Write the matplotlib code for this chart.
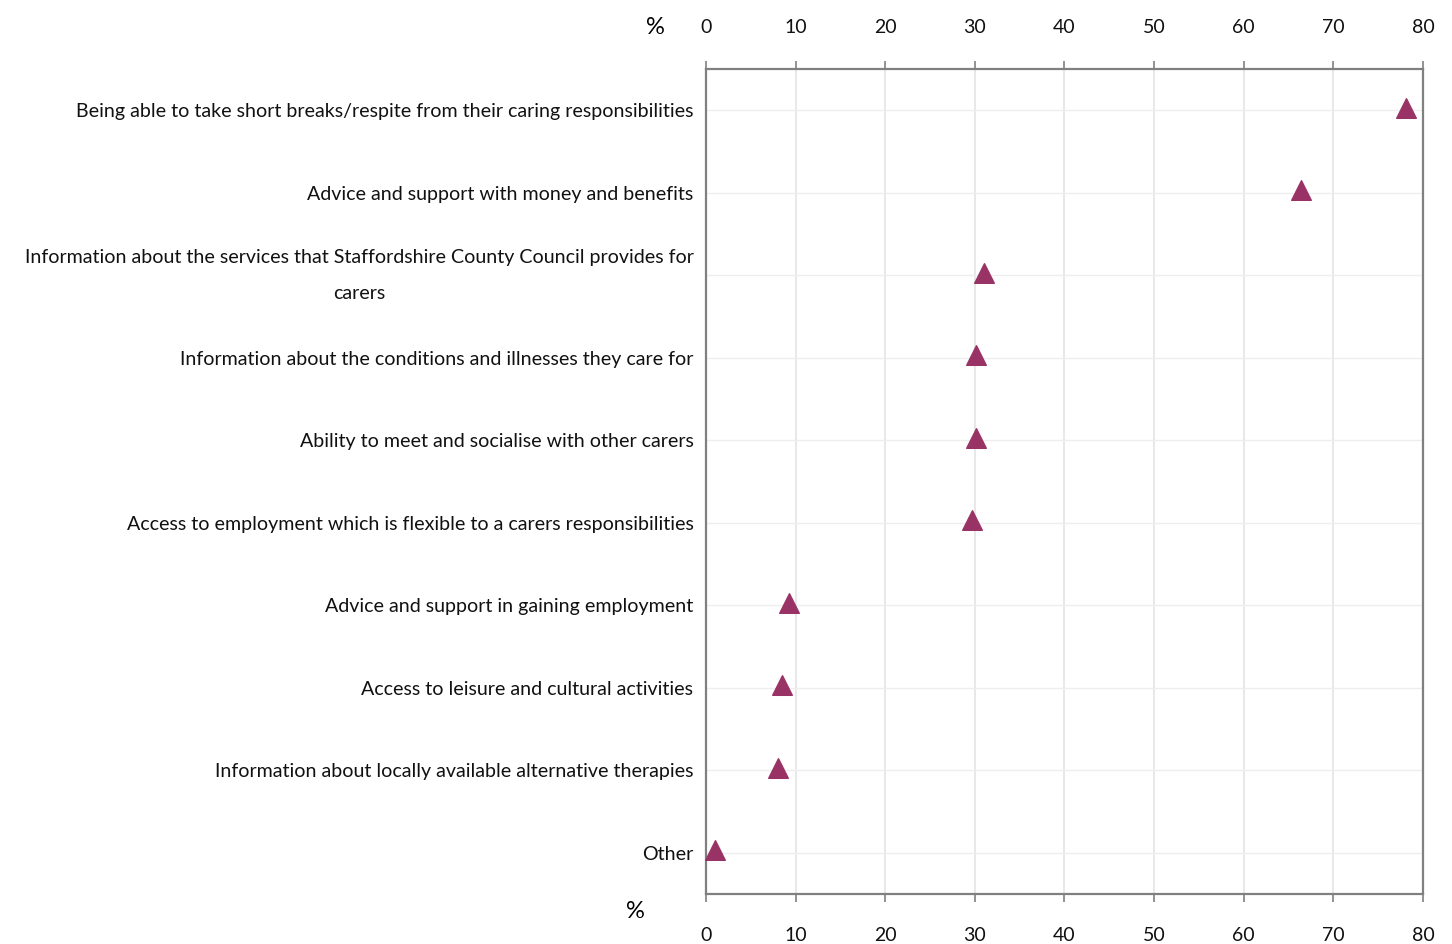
import matplotlib.pyplot as plt
import numpy as np

plt.rcParams['font.family'] = ['Lato', 'DejaVu Sans']

categories = [
    'Being able to take short breaks/respite from their caring responsibilities',
    'Advice and support with money and benefits',
    'Information about the services that Staffordshire County Council provides for\ncarers',
    'Information about the conditions and illnesses they care for',
    'Ability to meet and socialise with other carers',
    'Access to employment which is flexible to a carers responsibilities',
    'Advice and support in gaining employment',
    'Access to leisure and cultural activities',
    'Information about locally available alternative therapies',
    'Other',
]
percent = [78.1, 66.4, 31.0, 30.1, 30.1, 29.7, 9.3, 8.5, 8.0, 1.0]
xticks = [0, 10, 20, 30, 40, 50, 60, 70, 80]

fig, ax = plt.subplots(figsize=(14.52, 9.44), dpi=100)
fig.subplots_adjust(left=0.4862, right=0.98, top=0.927, bottom=0.053)

y = np.arange(len(categories))
ax.scatter(percent, y - 0.03, marker='^', s=200, color='#993366', zorder=3, clip_on=False)

ax.set_xlim(0, 80)
ax.set_ylim(len(categories) - 0.5, -0.5)
ax.set_xticks(xticks)
ax.set_yticks(y)
ax.set_yticklabels(categories, fontsize=14.1, multialignment='center')
for lab in ax.get_yticklabels():
    if '\n' in lab.get_text():
        lab.set_linespacing(2.35)
        lab.set_verticalalignment('center')

ax.grid(axis='x', color='#e4e4e4', lw=1.2)
ax.grid(axis='y', color='#eeeeee', lw=1)
ax.set_axisbelow(True)

for s in ax.spines.values():
    s.set_color('#808080')
    s.set_linewidth(1.6)

ax.tick_params(axis='y', length=0, pad=9, colors='#111111')
ax.tick_params(axis='x', direction='out', length=6, width=1.2, color='#808080',
               labelsize=14, pad=18, labelcolor='#111111')

top = ax.secondary_xaxis('top')
top.set_xticks(xticks)
top.spines['top'].set_visible(False)
top.tick_params(direction='out', length=6, width=1.2, color='#808080',
                labelsize=14, pad=18, labelcolor='#111111')

fig.text(655 / 1452, 1 - 27 / 944, '%', fontsize=17, ha='center', va='center')
fig.text(635 / 1452, 1 - 912 / 944, '%', fontsize=17, ha='center', va='center')

fig.savefig('out.png', dpi=100)
